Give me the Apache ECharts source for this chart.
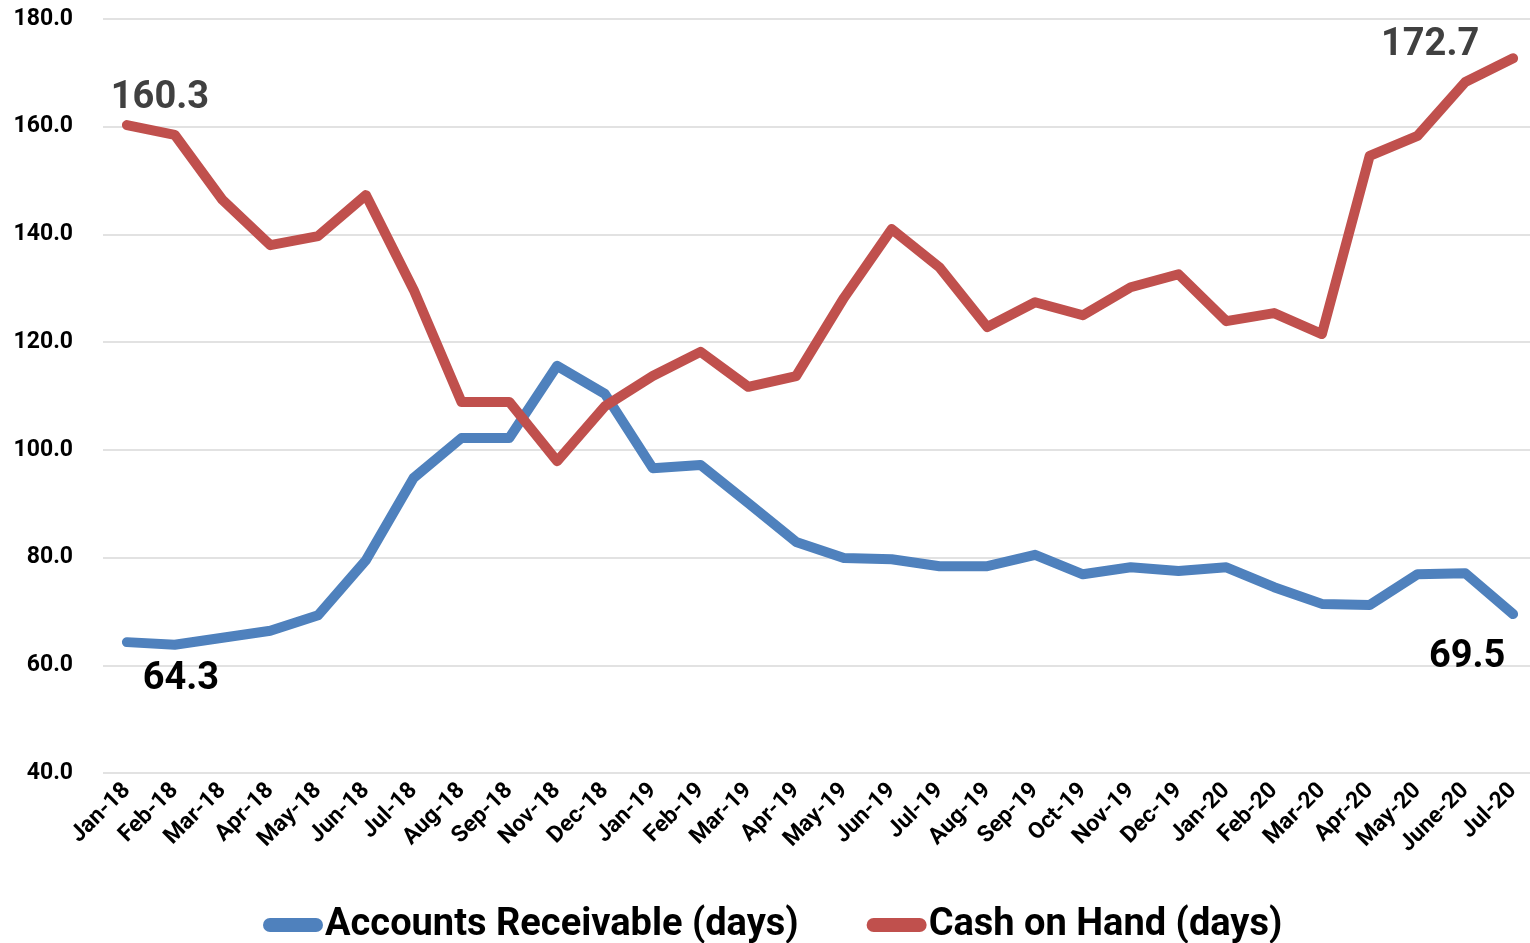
<!DOCTYPE html>
<html>
<head>
<meta charset="utf-8">
<script src="https://cdn.jsdelivr.net/npm/echarts@6/dist/echarts.min.js"></script>
<style>
html,body{margin:0;padding:0;background:#fff;overflow:hidden;width:1530px;height:943px;}
#chart{width:1537px;height:943px;}
</style>
</head>
<body>
<div id="chart"></div>
<script>
const categories = ['Jan-18','Feb-18','Mar-18','Apr-18','May-18','Jun-18','Jul-18','Aug-18','Sep-18','Nov-18','Dec-18','Jan-19','Feb-19','Mar-19','Apr-19','May-19','Jun-19','Jul-19','Aug-19','Sep-19','Oct-19','Nov-19','Dec-19','Jan-20','Feb-20','Mar-20','Apr-20','May-20','June-20','Jul-20'];
const accountsReceivable = [64.3,63.8,65.1,66.4,69.3,79.5,94.8,102.2,102.2,115.6,110.4,96.6,97.2,90.1,82.9,79.9,79.7,78.4,78.4,80.5,76.9,78.2,77.5,78.2,74.5,71.4,71.2,76.9,77.1,69.5];
const cashOnHand = [160.3,158.5,146.4,138.0,139.7,147.3,129.7,108.9,108.9,97.9,108.1,113.7,118.2,111.7,113.7,128.2,141.0,133.9,122.8,127.4,125.0,130.2,132.6,123.9,125.4,121.5,154.6,158.3,168.3,172.7];
const yTicks = [40,60,80,100,120,140,160,180];

const FONT = 'Roboto';
function withLabels(arr, firstOff, lastOff, color) {
  return arr.map((v, i) => {
    if (i === 0 || i === arr.length - 1) {
      return {
        value: v,
        label: {
          show: true,
          position: 'inside',
          offset: i === 0 ? firstOff : lastOff,
          formatter: (p) => p.value.toFixed(1),
          color: color,
          fontFamily: FONT,
          fontWeight: 'bold',
          fontSize: 38
        }
      };
    }
    return v;
  });
}

const chart = echarts.init(document.getElementById('chart'));
chart.setOption({
  animation: false,
  backgroundColor: '#fff',
  grid: { left: 103, right: 0, top: 19, bottom: 170, containLabel: false },
  legend: {
    left: 258,
    top: 901,
    itemWidth: 60,
    itemHeight: 14,
    itemGap: 68,
    icon: 'path://M7,0 L53,0 A7,7 0 0 1 53,14 L7,14 A7,7 0 0 1 7,0 Z',
    textStyle: { fontFamily: FONT, fontWeight: 'bold', fontSize: 38, color: '#000', padding: [0,0,0,-3] },
    data: ['Accounts Receivable (days)', 'Cash on Hand (days)']
  },
  xAxis: {
    type: 'category',
    data: categories,
    boundaryGap: true,
    axisLine: { show: false },
    axisTick: { show: false },
    axisLabel: {
      interval: 0,
      rotate: 45,
      margin: 14,
      fontFamily: FONT,
      fontWeight: 'bold',
      fontSize: 23,
      color: '#000'
    },
    splitLine: { show: false }
  },
  yAxis: {
    type: 'value',
    min: yTicks[0],
    max: yTicks[yTicks.length - 1],
    interval: 20,
    axisLine: { show: false },
    axisTick: { show: false },
    axisLabel: {
      margin: 30,
      fontFamily: FONT,
      fontWeight: 'bold',
      fontSize: 23,
      color: '#000',
      formatter: (v) => v.toFixed(1)
    },
    splitLine: { lineStyle: { color: '#d9d9d9', width: 1.5 } }
  },
  series: [
    {
      name: 'Accounts Receivable (days)',
      type: 'line',
      data: withLabels(accountsReceivable, [54, 37], [-46, 43], '#000'),
      symbol: 'circle',
      symbolSize: 1,
      showSymbol: true,
      color: '#4F81BD',
      lineStyle: { width: 10, color: '#4F81BD', cap: 'round', join: 'round' },
      itemStyle: { color: '#4F81BD' },
      z: 2
    },
    {
      name: 'Cash on Hand (days)',
      type: 'line',
      data: withLabels(cashOnHand, [33, -27], [-83, -13], '#404040'),
      symbol: 'circle',
      symbolSize: 1,
      showSymbol: true,
      color: '#C0504D',
      lineStyle: { width: 10, color: '#C0504D', cap: 'round', join: 'round' },
      itemStyle: { color: '#C0504D' },
      z: 3
    }
  ]
});
</script>
</body>
</html>
